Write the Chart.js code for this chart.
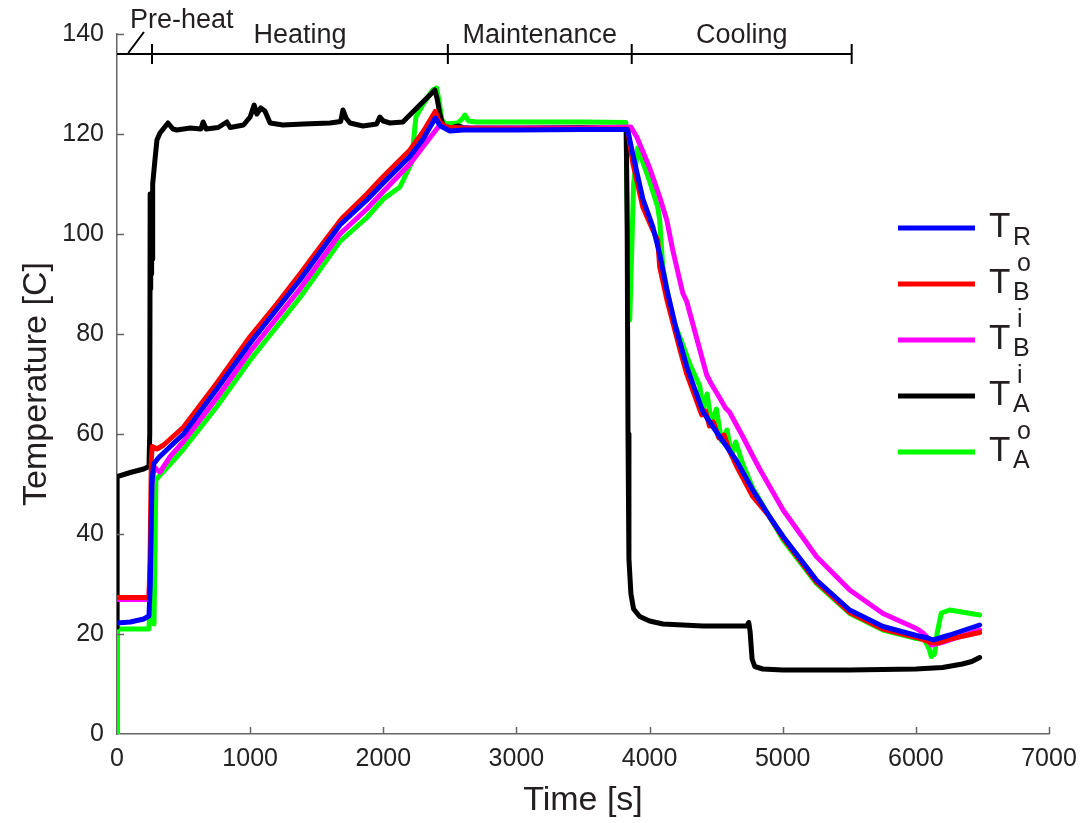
<!DOCTYPE html>
<html>
<head>
<meta charset="utf-8">
<script src="https://cdn.jsdelivr.net/npm/chart.js@4.4.0/dist/chart.umd.min.js"></script>
<style>
  html, body { margin: 0; padding: 0; background: #fff; }
  #wrap { width: 1089px; height: 823px; }
</style>
</head>
<body>
<div id="wrap"><canvas id="tempChart" width="1089" height="823"></canvas></div>
<script>
// T_R (blue)
const timeR = [0, 100, 200, 240, 250, 262, 275, 310, 400, 500, 750, 1000, 1374, 1674, 1877, 2000, 2200, 2300, 2390, 2430, 2500, 2600, 3000, 3500, 3835, 3874, 3950, 4024, 4076, 4129, 4200, 4279, 4400, 4500, 4650, 4775, 4900, 5003, 5253, 5503, 5753, 6004, 6090, 6130, 6254, 6479];
const tempR = [22.2, 22.4, 23, 23.6, 30, 50, 54, 55.2, 57.5, 60, 69, 78.2, 90.8, 101.8, 106.8, 110.2, 115.5, 119, 123.2, 121.6, 120.6, 120.8, 120.8, 120.9, 120.9, 116, 107, 101.5, 96, 89, 81, 73.5, 64.5, 60.5, 54.8, 48.8, 43.5, 39.5, 30.8, 24.8, 21.5, 19.7, 19.2, 18.8, 19.8, 21.8];

// T_B^o (red)
const timeBo = [0, 240, 248, 258, 265, 280, 300, 350, 400, 500, 750, 1000, 1200, 1374, 1500, 1674, 1700, 1877, 2000, 2200, 2300, 2390, 2420, 2470, 2600, 3000, 3500, 3835, 3874, 3949, 4024, 4061, 4076, 4129, 4227, 4279, 4392, 4420, 4450, 4480, 4520, 4560, 4600, 4655, 4775, 4900, 5003, 5253, 5503, 5753, 6004, 6060, 6110, 6160, 6254, 6479];
const tempBo = [27.3, 27.3, 35, 55, 57.5, 57.3, 57, 57.8, 59, 61.4, 70.2, 79.5, 86, 92, 96.5, 102.6, 103.4, 108, 111.5, 116.8, 120.5, 124.5, 122.5, 121.4, 121.1, 121, 121, 121, 114.2, 105.4, 100.8, 98.8, 93.4, 87, 77, 72, 63.8, 64.6, 61.6, 62.4, 59.2, 59.8, 56.6, 53.5, 47.5, 43.5, 39.2, 30.4, 24.3, 21, 19.3, 18.8, 18.3, 18.2, 19, 20.3];

// T_B^i (magenta)
const timeBi = [0, 240, 250, 262, 280, 300, 323, 400, 500, 750, 1000, 1374, 1674, 1877, 2000, 2200, 2300, 2430, 2500, 2600, 3000, 3500, 3860, 3904, 4001, 4076, 4129, 4174, 4249, 4279, 4429, 4460, 4527, 4570, 4600, 4700, 4752, 4827, 5003, 5253, 5503, 5753, 6004, 6050, 6079, 6116, 6180, 6254, 6479];
const tempBi = [26.9, 26.9, 33, 50, 53.4, 52.8, 52.4, 55.5, 58.5, 67.2, 76.5, 89, 100, 105, 108.5, 114, 117.5, 122, 121.2, 121.2, 121.2, 121.2, 121.4, 119.4, 113.2, 107.4, 102.8, 96.8, 88.2, 86.5, 71.8, 70.2, 67.2, 65.2, 64.4, 59.5, 56.8, 53, 44.8, 35.5, 28.8, 24.1, 21.1, 20.3, 19.5, 17.8, 18.2, 18.8, 20.8];

// T_A^i (black)
const timeAi = [0, 1, 100, 200, 240, 246, 249, 251, 253, 255, 257, 259, 261, 263, 268, 285, 300, 323, 383, 420, 450, 550, 630, 647, 670, 760, 825, 850, 950, 1000, 1030, 1050, 1080, 1111, 1150, 1246, 1400, 1600, 1680, 1697, 1720, 1750, 1847, 1950, 1974, 2000, 2050, 2147, 2252, 2350, 2387, 2405, 2425, 2447, 2500, 2560, 2600, 2650, 3000, 3500, 3825, 3832, 3838, 3845, 3860, 3880, 3926, 4000, 4100, 4400, 4730, 4745, 4755, 4770, 4790, 4850, 5000, 5500, 6000, 6200, 6350, 6420, 6479];
const tempAi = [21.4, 51.5, 52.3, 53, 53.5, 60, 108, 89, 107, 90, 106, 92, 104, 95, 110, 114.8, 118.8, 120.2, 122.2, 121, 120.8, 121.2, 121, 122.4, 121, 121.3, 122.4, 121.3, 121.8, 123.4, 125.8, 124, 125.2, 124.6, 122.2, 121.8, 122, 122.2, 122.5, 124.8, 123.2, 122.2, 121.6, 122, 123.4, 122.6, 122.2, 122.4, 125.2, 127.8, 128.8, 127, 124, 121.8, 121.2, 121.6, 121.3, 121.2, 121.2, 121.3, 121.2, 100, 60, 35, 28, 25, 23.5, 22.6, 22, 21.6, 21.6, 22.3, 20.5, 15, 13.5, 13, 12.8, 12.8, 13, 13.3, 14, 14.5, 15.3];

// T_A^o (green)
const timeAo = [0, 4, 240, 246, 265, 278, 284, 292, 330, 400, 500, 750, 1000, 1374, 1674, 1877, 2000, 2125, 2186, 2212, 2225, 2245, 2300, 2372, 2400, 2420, 2440, 2470, 2560, 2600, 2613, 2640, 2700, 3000, 3500, 3822, 3838, 3851, 3880, 3911, 4001, 4061, 4076, 4099, 4174, 4240, 4302, 4377, 4402, 4432, 4465, 4502, 4540, 4582, 4615, 4647, 4700, 4775, 4900, 5003, 5253, 5503, 5753, 6004, 6060, 6079, 6100, 6116, 6140, 6160, 6191, 6254, 6479];
const tempAo = [0, 21, 21, 25, 24.5, 22, 22, 50.8, 52, 54, 57, 65.5, 74.8, 87.3, 98.5, 103.3, 107, 109.4, 112.8, 114.2, 118, 123.4, 126, 128.8, 129.2, 126.5, 122.8, 122, 122.2, 123.2, 123.8, 122.6, 122.4, 122.4, 122.4, 122.3, 95, 82.8, 110, 117.2, 110.5, 105.4, 102.8, 93.4, 83, 78.5, 74, 69.6, 65, 68, 62.2, 65, 58.6, 60.8, 55.8, 58.4, 54, 49.2, 43.5, 38.8, 30.1, 24.1, 20.8, 19.1, 18.9, 18.1, 17, 15.5, 16, 20.2, 24.2, 24.8, 23.8];

// legend text pieces
const legendMain = ['T', 'T', 'T', 'T', 'T'];
const legendSub = ['R', 'B', 'B', 'A', 'A'];
const legendSup = ['', 'o', 'i', 'i', 'o'];

// process phases (time in s)
const phaseEdges = [0, 263, 2485, 3866, 5518];
const phaseNames = ['Pre-heat', 'Heating', 'Maintenance', 'Cooling'];
const phaseLevel = 136;

const FONT = "'Liberation Sans', Arial, sans-serif";
const textColor = '#231f20';
const axisColor = '#666';

function pts(ts, vs) {
    return ts.map((t, i) => ({ x: t, y: vs[i] }));
}

const series = [
    { label: 'T_R', t: timeR, v: tempR, color: '#0000ff' },
    { label: 'T_B^o', t: timeBo, v: tempBo, color: '#ff0000' },
    { label: 'T_B^i', t: timeBi, v: tempBi, color: '#ff00ff' },
    { label: 'T_A^i', t: timeAi, v: tempAi, color: '#000000' },
    { label: 'T_A^o', t: timeAo, v: tempAo, color: '#00ff00' }
];

// inward tick marks on the left and bottom axes
const innerTicks = {
    id: 'innerTicks',
    afterDraw(chart) {
        const ctx = chart.ctx;
        const xs = chart.scales.x, ys = chart.scales.y;
        ctx.save();
        ctx.strokeStyle = axisColor;
        ctx.lineWidth = 1.5;
        ctx.beginPath();
        ys.ticks.forEach(t => {
            if (t.value === 0) return;
            const py = Math.round(ys.getPixelForValue(t.value)) + 0.5;
            ctx.moveTo(xs.left, py);
            ctx.lineTo(xs.left + 7, py);
        });
        xs.ticks.forEach(t => {
            if (t.value === 0) return;
            const px = Math.round(xs.getPixelForValue(t.value)) + 0.5;
            ctx.moveTo(px, ys.bottom);
            ctx.lineTo(px, ys.bottom - 7);
        });
        ctx.stroke();
        ctx.restore();
    }
};

// phase bar along the top
const phaseBar = {
    id: 'phaseBar',
    afterDraw(chart) {
        const ctx = chart.ctx;
        const xs = chart.scales.x, ys = chart.scales.y;
        const py = ys.getPixelForValue(phaseLevel);
        ctx.save();
        ctx.strokeStyle = '#000';
        ctx.lineWidth = 2;
        ctx.beginPath();
        ctx.moveTo(xs.getPixelForValue(phaseEdges[0]), py);
        ctx.lineTo(xs.getPixelForValue(phaseEdges[phaseEdges.length - 1]), py);
        for (let i = 1; i < phaseEdges.length; i++) {
            const px = xs.getPixelForValue(phaseEdges[i]);
            ctx.moveTo(px, py - 10);
            ctx.lineTo(px, py + 10);
        }
        // pointer for the short pre-heat phase
        const sx0 = xs.getPixelForValue(phaseEdges[1] * 0.32);
        const sx1 = xs.getPixelForValue(phaseEdges[1] * 0.77);
        ctx.moveTo(sx0, py - 1);
        ctx.lineTo(sx1, py - 22);
        ctx.stroke();

        ctx.fillStyle = textColor;
        ctx.font = '27px ' + FONT;
        ctx.textBaseline = 'alphabetic';
        ctx.textAlign = 'left';
        ctx.fillText(phaseNames[0], sx1 - 14, py - 26);
        ctx.textAlign = 'center';
        for (let i = 1; i < phaseNames.length; i++) {
            const cx = (xs.getPixelForValue(phaseEdges[i]) + xs.getPixelForValue(phaseEdges[i + 1])) / 2;
            ctx.fillText(phaseNames[i], cx, py - 11);
        }
        ctx.restore();
    }
};

// legend with sub/superscripts
const subLegend = {
    id: 'subLegend',
    afterDraw(chart) {
        const ctx = chart.ctx;
        ctx.save();
        chart.data.datasets.forEach((ds, i) => {
            const ly = 228 + i * 56;
            ctx.strokeStyle = ds.borderColor;
            ctx.lineWidth = 5;
            ctx.beginPath();
            ctx.moveTo(898, ly);
            ctx.lineTo(975, ly);
            ctx.stroke();
            ctx.fillStyle = textColor;
            ctx.textAlign = 'left';
            ctx.textBaseline = 'alphabetic';
            ctx.font = '35px ' + FONT;
            ctx.fillText(legendMain[i], 989, ly + 9);
            ctx.font = '25px ' + FONT;
            if (legendSup[i]) {
                ctx.fillText(legendSup[i], 1017, ly - 13);
                ctx.fillText(legendSub[i], 1013, ly + 16);
            } else {
                ctx.fillText(legendSub[i], 1013, ly + 17);
            }
        });
        ctx.restore();
    }
};

const ctx = document.getElementById('tempChart').getContext('2d');
const chart = new Chart(ctx, {
    type: 'line',
    data: {
        datasets: series.map(s => ({
            label: s.label,
            data: pts(s.t, s.v),
            borderColor: s.color,
            backgroundColor: s.color,
            borderWidth: 5,
            pointRadius: 0,
            tension: 0,
            fill: false,
            borderJoinStyle: 'round',
            borderCapStyle: 'round'
        }))
    },
    options: {
        responsive: false,
        animation: false,
        devicePixelRatio: 1,
        layout: { padding: { top: 34, right: 40, left: 0, bottom: 0 } },
        plugins: {
            legend: { display: false },
            tooltip: { enabled: false }
        },
        scales: {
            x: {
                type: 'linear',
                min: 0,
                max: 7000,
                ticks: { stepSize: 1000, color: '#222', font: { family: FONT, size: 25 }, padding: 10, maxRotation: 0, callback: v => String(v) },
                grid: { display: true, drawOnChartArea: false, drawTicks: false },
                border: { display: true, color: axisColor, width: 1.5 },
                title: { display: true, text: 'Time [s]', color: textColor, font: { family: FONT, size: 34 }, padding: { top: 0, bottom: 2 } },
                afterFit(scale) { scale.height = 89; }
            },
            y: {
                min: 0,
                max: 140,
                ticks: { stepSize: 20, color: '#222', font: { family: FONT, size: 25 }, padding: 13, callback: v => String(v) },
                grid: { display: true, drawOnChartArea: false, drawTicks: false },
                border: { display: true, color: axisColor, width: 1.5 },
                title: { display: true, text: 'Temperature [C]', color: textColor, font: { family: FONT, size: 34 }, padding: { top: 16, bottom: 0 } },
                afterFit(scale) { scale.width = 117; }
            }
        }
    },
    plugins: [innerTicks, phaseBar, subLegend]
});
</script>
</body>
</html>
